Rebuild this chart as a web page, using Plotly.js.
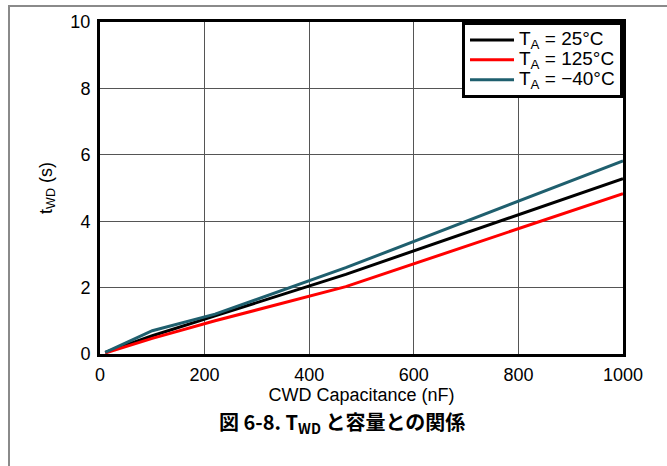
<!DOCTYPE html>
<html>
<head>
<meta charset="utf-8">
<script src="https://cdn.plot.ly/plotly-3.0.1.min.js"></script>
<style>
html,body{margin:0;padding:0;overflow:hidden;background:#fff;}
#frame{position:absolute;left:8px;top:5px;width:720px;height:520px;border:2px solid #8a8a8a;pointer-events:none;z-index:5;}
#chart{position:absolute;left:0;top:0;width:667px;height:466px;}
</style>
</head>
<body>
<div id="chart"></div>
<div id="frame"></div>
<script>
const capacitance = [10, 100, 220, 470, 1000];
const t25 = [0.05, 0.55, 1.15, 2.4, 5.28];
const t125 = [0.03, 0.47, 1.0, 2.03, 4.83];
const tm40 = [0.05, 0.7, 1.2, 2.6, 5.82];
const xTicks = [0, 200, 400, 600, 800, 1000];
const yTicks = [0, 2, 4, 6, 8, 10];
const seriesNames = ["T<sub>A</sub> = 25°C", "T<sub>A</sub> = 125°C", "T<sub>A</sub> = −40°C"];
const seriesColors = ["#000000", "#ff0000", "#1f5f6e"];

const ys = [t25, t125, tm40];
const traces = ys.map((y, i) => ({
  x: capacitance, y: y, type: 'scatter', mode: 'lines',
  name: '<span style="font-size:19px">' + seriesNames[i] + '</span>',
  line: {color: seriesColors[i], width: 3}
}));

const ff = 'Liberation Sans, Arial, sans-serif';
const layout = {
  width: 667, height: 466,
  margin: {l: 100, r: 44, t: 22, b: 112},
  paper_bgcolor: '#fff', plot_bgcolor: '#fff',
  font: {family: ff, size: 18, color: '#000'},
  showlegend: true,
  legend: {
    x: 1, y: 1, xanchor: 'right', yanchor: 'top',
    bgcolor: '#fff', bordercolor: '#000', borderwidth: 3,
    font: {family: ff, size: 13, color: '#000'},
    tracegroupgap: 0, itemwidth: 44
  },
  xaxis: {
    range: [0, 1000], tickvals: xTicks, ticktext: xTicks.map(String),
    showline: true, linecolor: '#000', linewidth: 3, mirror: true,
    showgrid: true, gridcolor: '#555', gridwidth: 1,
    zeroline: false, ticks: 'outside', ticklen: 2, tickcolor: 'rgba(0,0,0,0)',
    tickfont: {size: 18},
    title: {text: 'CWD Capacitance (nF)', font: {size: 18}, standoff: 0}
  },
  yaxis: {
    range: [0, 10], tickvals: yTicks, ticktext: yTicks.map(String),
    showline: true, linecolor: '#000', linewidth: 3, mirror: true,
    showgrid: true, gridcolor: '#555', gridwidth: 1,
    zeroline: false, ticks: 'outside', ticklen: 3, tickcolor: 'rgba(0,0,0,0)',
    tickfont: {size: 18},
    title: {text: 't<sub>WD</sub> (s)', font: {size: 18}, standoff: 14}
  },
  annotations: [{
    xref: 'paper', yref: 'paper', x: 0.463, y: -0.207, xanchor: 'center', yanchor: 'middle',
    showarrow: false,
    text: '<b>図 6-8. T<sub>WD</sub> と容量との関係</b>',
    font: {family: 'Noto Sans CJK JP, Liberation Sans, sans-serif', size: 20, color: '#000'}
  }]
};
Plotly.newPlot('chart', traces, layout, {displayModeBar: false, staticPlot: true});
</script>
</body>
</html>
